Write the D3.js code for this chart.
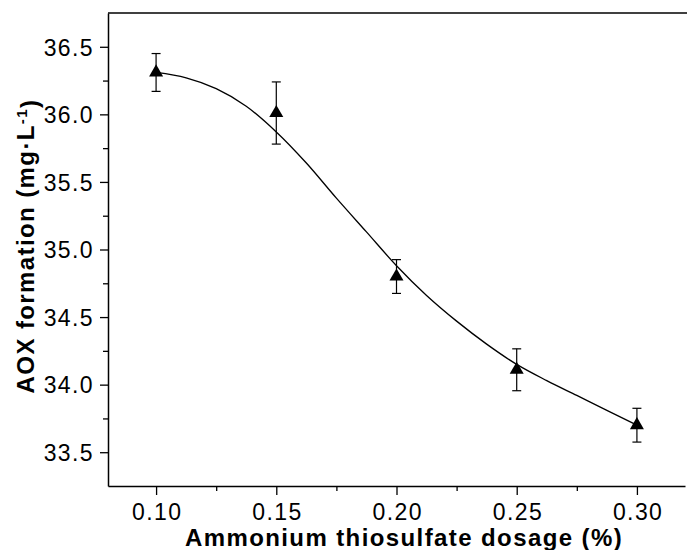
<!DOCTYPE html>
<html>
<head>
<meta charset="utf-8">
<script src="https://cdn.jsdelivr.net/npm/d3@7"></script>
<style>
  body { margin: 0; background: #fff; }
  svg { display: block; font-family: "Liberation Sans", Arial, sans-serif; }
</style>
</head>
<body>
<div id="chart"></div>
<script>
// measured points (dosage %, AOX mg/L, error)
const dosage = [0.10, 0.15, 0.20, 0.25, 0.30];
const aox = [36.31, 36.01, 34.80, 34.11, 33.70];
const aoxErr = [0.14, 0.23, 0.125, 0.155, 0.125];

// fitted curve
const fitX = [0.10, 0.1125, 0.125, 0.1375, 0.15, 0.1625, 0.175, 0.1875, 0.20, 0.2125, 0.225, 0.2375, 0.25, 0.2625, 0.275, 0.2875, 0.30];
const fitY = [36.31, 36.27, 36.19, 36.06, 35.87, 35.64, 35.38, 35.13, 34.88, 34.66, 34.47, 34.30, 34.15, 34.03, 33.92, 33.81, 33.70];

const xTicks = [0.10, 0.15, 0.20, 0.25, 0.30];
const xMinor = [0.125, 0.175, 0.225, 0.275];
const yTicks = [33.5, 34.0, 34.5, 35.0, 35.5, 36.0, 36.5];
const yMinor = [33.75, 34.25, 34.75, 35.25, 35.75, 36.25];

const W = 687, H = 550;
const plotL = 108, plotR = 685, plotT = 13, plotB = 486;

const svg = d3.select("#chart").append("svg")
  .attr("width", W).attr("height", H);

const x = d3.scaleLinear().domain([0.08, 0.32]).range([plotL, plotR]);
const y = d3.scaleLinear().domain([33.25, 36.75]).range([plotB, plotT]);

// minor ticks first
svg.append("g")
  .attr("transform", "translate(0," + plotB + ")")
  .call(d3.axisBottom(x).tickValues(xMinor).tickSize(5).tickSizeOuter(0).tickFormat(""))
  .call(g => g.select(".domain").remove())
  .selectAll("line").attr("stroke", "#000").attr("stroke-width", 1.3);
svg.append("g")
  .attr("transform", "translate(" + plotL + ",0)")
  .call(d3.axisLeft(y).tickValues(yMinor).tickSize(5).tickSizeOuter(0).tickFormat(""))
  .call(g => g.select(".domain").remove())
  .selectAll("line").attr("stroke", "#000").attr("stroke-width", 1.3);

// major axes
const xAxis = svg.append("g")
  .attr("transform", "translate(0," + plotB + ")")
  .call(d3.axisBottom(x).tickValues(xTicks).tickSize(9).tickSizeOuter(0).tickPadding(9)
    .tickFormat(d3.format(".2f")));
const yAxis = svg.append("g")
  .attr("transform", "translate(" + plotL + ",0)")
  .call(d3.axisLeft(y).tickValues(yTicks).tickSize(8).tickSizeOuter(0).tickPadding(6)
    .tickFormat(d3.format(".1f")));

[xAxis, yAxis].forEach(function(g) {
  g.selectAll("text").style("font-size", "23px").style("letter-spacing", "1.4px")
    .attr("fill", "#000")
    .style("font-family", "Liberation Sans, Arial, sans-serif");
  g.selectAll("line").attr("stroke", "#000").attr("stroke-width", 1.3);
  g.select(".domain").attr("stroke", "#000").attr("stroke-width", 1.5);
});
xAxis.selectAll("text").attr("dy", "0.71em").attr("dx", "0.7");
yAxis.selectAll("text").attr("dy", "0.36em");

// top border line
svg.append("line")
  .attr("x1", plotL).attr("x2", plotR + 2)
  .attr("y1", plotT).attr("y2", plotT)
  .attr("stroke", "#000").attr("stroke-width", 1.5);

// fitted curve
const fit = fitX.map(function(d, i) { return { x: d, y: fitY[i] }; });
svg.append("path")
  .datum(fit)
  .attr("fill", "none")
  .attr("stroke", "#000")
  .attr("stroke-width", 1.3)
  .attr("d", d3.line()
    .curve(d3.curveCatmullRom)
    .x(function(d) { return x(d.x); })
    .y(function(d) { return y(d.y); }));

// error bars
const pts = dosage.map(function(d, i) { return { x: d, y: aox[i], e: aoxErr[i] }; });
const eb = svg.append("g").attr("stroke", "#000").attr("stroke-width", 1.2);
pts.forEach(function(p) {
  eb.append("line").attr("x1", x(p.x)).attr("x2", x(p.x))
    .attr("y1", y(p.y + p.e)).attr("y2", y(p.y - p.e));
  [p.y + p.e, p.y - p.e].forEach(function(v) {
    eb.append("line").attr("x1", x(p.x) - 4.5).attr("x2", x(p.x) + 4.5)
      .attr("y1", y(v)).attr("y2", y(v));
  });
});

// triangle markers
svg.append("g").selectAll("path")
  .data(pts)
  .enter().append("path")
  .attr("transform", function(d) { return "translate(" + x(d.x) + "," + y(d.y) + ")"; })
  .attr("d", d3.symbol().type(d3.symbolTriangle).size(85))
  .attr("fill", "#000");

// axis titles
svg.append("text")
  .attr("x", 404)
  .attr("y", 546)
  .attr("text-anchor", "middle")
  .style("font-size", "24px")
  .style("letter-spacing", "1.4px")
  .style("font-weight", "bold")
  .text("Ammonium thiosulfate dosage (%)");

const yt = svg.append("text")
  .attr("transform", "translate(34," + 246 + ") rotate(-90)")
  .attr("text-anchor", "middle")
  .style("font-size", "24px")
  .style("letter-spacing", "1.4px")
  .style("font-weight", "bold");
yt.append("tspan").text("AOX formation (mg\u00B7L");
yt.append("tspan").attr("dy", "-0.45em").style("font-size", "15px").text("-1");
yt.append("tspan").attr("dy", "0.45em").text(")");
</script>
</body>
</html>
